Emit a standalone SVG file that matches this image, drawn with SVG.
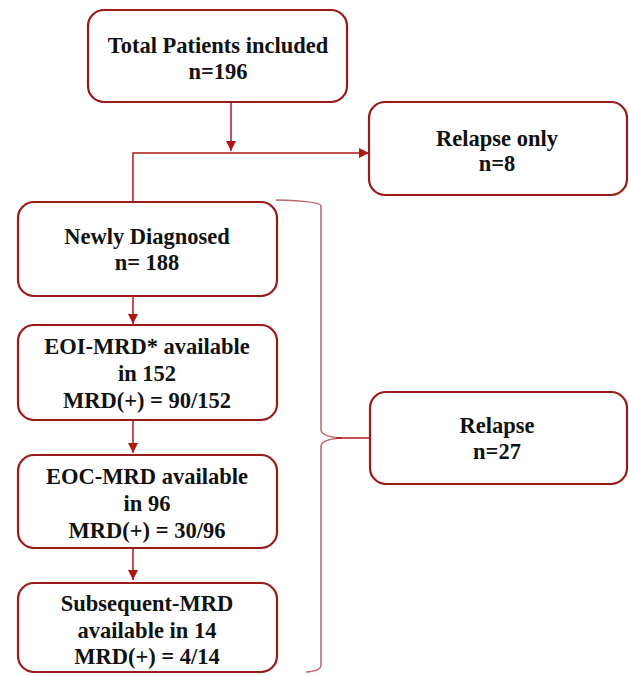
<svg xmlns="http://www.w3.org/2000/svg" width="629" height="676" viewBox="0 0 629 676">
<defs>
<marker id="ah" viewBox="0 0 10 10" refX="10" refY="5" markerWidth="10" markerHeight="10" markerUnits="userSpaceOnUse" orient="auto">
<path d="M0,0 L10,5 L0,10 Z" fill="#b01818"/>
</marker>
<style>
.box{fill:#fff;stroke:#9a1a1a;stroke-width:2.2}
.t{font-family:"Liberation Serif","Times New Roman",serif;font-weight:bold;font-size:22.5px;fill:#111;text-anchor:middle}
.c{fill:none;stroke:#b01818;stroke-width:1.5}
.br{fill:none;stroke:#c0666a;stroke-width:1.5}
</style>
</defs>
<rect width="629" height="676" fill="#fff"/>
<g id="connectors">
<path class="c" d="M231,102 V151" marker-end="url(#ah)"/>
<path class="c" d="M133,202 V153 H369" marker-end="url(#ah)"/>
<path class="c" d="M133,296 V324" marker-end="url(#ah)"/>
<path class="c" d="M133,420 V453" marker-end="url(#ah)"/>
<path class="c" d="M133,548 V580" marker-end="url(#ah)"/>
<path class="br" d="M276,200 Q320,201 321,206 V430 Q322,437 342,438 Q322,439 321,446 V665 Q321,671 306,672"/>
<path class="c" d="M336,438 H370"/>
</g>
<g id="total">
<rect class="box" x="88" y="10" width="259" height="92" rx="16"/>
<text class="t" x="218" y="53">Total Patients included</text>
<text class="t" x="218" y="79">n=196</text>
</g>
<g id="relapse-only">
<rect class="box" x="369" y="102" width="258" height="93" rx="16"/>
<text class="t" x="497" y="146">Relapse only</text>
<text class="t" x="497" y="171">n=8</text>
</g>
<g id="newly">
<rect class="box" x="18" y="202" width="259" height="94" rx="16"/>
<text class="t" x="147" y="244">Newly Diagnosed</text>
<text class="t" x="147" y="270">n= 188</text>
</g>
<g id="eoi">
<rect class="box" x="18" y="325" width="259" height="95" rx="16"/>
<text class="t" x="147" y="354">EOI-MRD* available</text>
<text class="t" x="147" y="381">in 152</text>
<text class="t" x="147" y="408">MRD(+) = 90/152</text>
</g>
<g id="eoc">
<rect class="box" x="18" y="455" width="259" height="93" rx="16"/>
<text class="t" x="147" y="484">EOC-MRD available</text>
<text class="t" x="147" y="511">in 96</text>
<text class="t" x="147" y="538">MRD(+) = 30/96</text>
</g>
<g id="subsequent">
<rect class="box" x="18" y="583" width="259" height="89" rx="16"/>
<text class="t" x="147" y="611">Subsequent-MRD</text>
<text class="t" x="147" y="638">available in 14</text>
<text class="t" x="147" y="664">MRD(+) = 4/14</text>
</g>
<g id="relapse">
<rect class="box" x="370" y="392" width="257" height="92" rx="16"/>
<text class="t" x="497" y="433">Relapse</text>
<text class="t" x="497" y="459">n=27</text>
</g>
</svg>
